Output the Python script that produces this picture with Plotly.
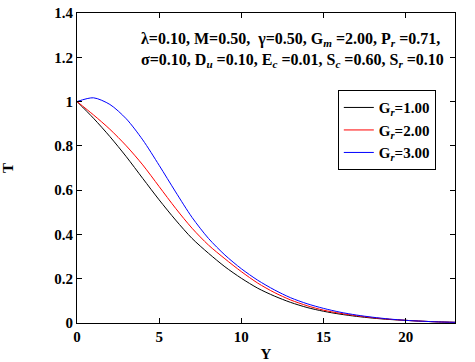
import plotly.graph_objects as go

# temperature profiles
y_pos = list(range(0, 24))
T_gr1 = [1.0, 0.925, 0.842, 0.751, 0.653, 0.556, 0.465, 0.382, 0.315, 0.254, 0.202, 0.157,
         0.122, 0.093, 0.07, 0.053, 0.04, 0.03, 0.022, 0.016, 0.012, 0.008, 0.005, 0.003]
T_gr2 = [1.0, 0.94, 0.875, 0.80, 0.714, 0.616, 0.518, 0.428, 0.352, 0.29, 0.232, 0.18,
         0.138, 0.104, 0.078, 0.058, 0.044, 0.033, 0.024, 0.017, 0.012, 0.008, 0.005, 0.003]
T_gr3 = [1.0, 1.017, 0.987, 0.922, 0.827, 0.712, 0.592, 0.477, 0.382, 0.307, 0.245, 0.193,
         0.15, 0.114, 0.087, 0.066, 0.049, 0.036, 0.026, 0.018, 0.012, 0.008, 0.005, 0.003]
gr_labels = ['1.00', '2.00', '3.00']
colors = ['black', 'red', 'blue']

font = 'Liberation Serif, Times New Roman, serif'

fig = go.Figure()
for T, lab, c in zip([T_gr1, T_gr2, T_gr3], gr_labels, colors):
    fig.add_trace(go.Scatter(x=y_pos, y=T, mode='lines', legendgroup=lab,
                             line=dict(color=c, width=1, shape='spline', smoothing=0.8),
                             name='<b>G<sub><i>r</i></sub>=' + lab + '</b>'))

params = ('<b>\u03bb=0.10, M=0.50,  \u03b3=0.50, G<sub><i>m</i></sub> =2.00, P<sub><i>r</i></sub> =0.71,</b><br>'
          '<b>\u03c3=0.10, D<sub><i>u</i></sub> =0.10, E<sub><i>c</i></sub> =0.01, S<sub><i>c</i></sub> =0.60, '
          'S<sub><i>r</i></sub> =0.10</b>')
fig.add_annotation(text=params, xref='paper', yref='paper', x=0.165, y=0.952, xanchor='left', yanchor='top',
                   showarrow=False, align='left', font=dict(family=font, size=16, color='black'))

axis_common = dict(showline=True, linecolor='black', linewidth=1, mirror='ticks', ticks='inside',
                   ticklen=5, tickcolor='black', showgrid=False, zeroline=False, automargin=False,
                   tickfont=dict(family=font, size=15, color='black'))
fig.update_xaxes(range=[0, 23], tickvals=[0, 5, 10, 15, 20], ticktext=['<b>%d</b>' % v for v in [0, 5, 10, 15, 20]],
                 title=dict(text='<b>Y</b>', font=dict(family=font, size=15, color='black'), standoff=4),
                 **axis_common)
yt = [0, 0.2, 0.4, 0.6, 0.8, 1, 1.2, 1.4]
fig.update_yaxes(range=[0, 1.4], tickvals=yt, ticktext=['<b>%g</b>' % v for v in yt],
                 title=dict(text='<b>T</b>', font=dict(family=font, size=15, color='black'), standoff=40),
                 **axis_common)
fig.update_layout(width=475, height=362, margin=dict(l=77, r=20, t=13, b=39),
                  plot_bgcolor='white', paper_bgcolor='white',
                  legend=dict(x=0.69, y=0.751, xanchor='left', yanchor='top', bordercolor='black', borderwidth=1,
                              bgcolor='white', font=dict(family=font, size=15, color='black'),
                              tracegroupgap=0),
                  showlegend=True)

# drop the default page margin so the figure fills the window exactly
fig.write_html('out.html', config={'displayModeBar': False},
               post_script="document.body.style.margin='0px';document.body.style.overflow='hidden';")
